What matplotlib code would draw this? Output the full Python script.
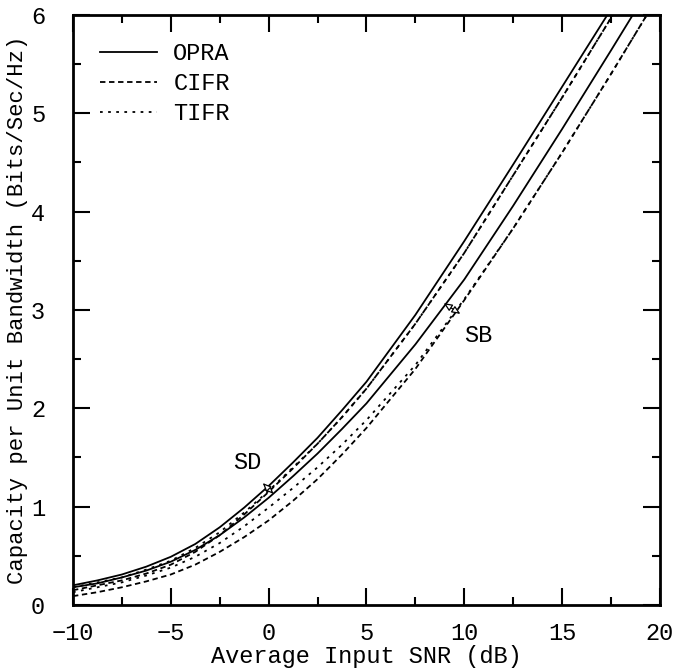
import numpy as np
import matplotlib
matplotlib.use('Agg')
import matplotlib.pyplot as plt
from matplotlib.ticker import MultipleLocator

plt.rcParams['font.family'] = ['Liberation Mono', 'DejaVu Sans Mono']

# values (bits/s/Hz)
snr_db = [-10, -8.75, -7.5, -6.25, -5, -3.75, -2.5, -1.25, 0, 1.25, 2.5, 3.75, 5,
          7.5, 10, 12.5, 15, 17.5, 20]

opra_sd = [0.20, 0.25, 0.31, 0.39, 0.49, 0.62, 0.79, 0.99, 1.21, 1.45, 1.70, 1.98, 2.27,
           2.95, 3.70, 4.48, 5.27, 6.06, 6.88]
opra_sb = [0.18, 0.22, 0.28, 0.35, 0.44, 0.56, 0.71, 0.89, 1.09, 1.31, 1.54, 1.79, 2.05,
           2.65, 3.31, 4.06, 4.84, 5.64, 6.45]
cifr_sd = [0.15, 0.20, 0.25, 0.32, 0.41, 0.54, 0.71, 0.92, 1.15, 1.39, 1.64, 1.91, 2.20,
           2.86, 3.58, 4.37, 5.16, 5.97, 6.80]
cifr_sb = [0.09, 0.13, 0.18, 0.24, 0.31, 0.41, 0.54, 0.69, 0.86, 1.06, 1.28, 1.53, 1.80,
           2.40, 3.10, 3.83, 4.60, 5.40, 6.22]
tifr_sd = [0.18, 0.23, 0.28, 0.36, 0.45, 0.58, 0.74, 0.94, 1.16, 1.40, 1.64, 1.91, 2.20,
           2.86, 3.58, 4.37, 5.16, 5.97, 6.80]
tifr_sb = [0.13, 0.18, 0.23, 0.30, 0.38, 0.49, 0.63, 0.80, 0.99, 1.19, 1.40, 1.63, 1.88,
           2.44, 3.11, 3.83, 4.60, 5.40, 6.22]

fig = plt.figure(figsize=(6.99, 6.69), dpi=100)
ax = fig.add_axes([0.1044, 0.0957, 0.8397, 0.8819])

lw = 1.3
dash = (0, (3, 2))
dot = (0, (1.5, 3))
ax.plot(snr_db, opra_sd, color='black', lw=lw, ls='-', label='OPRA')
ax.plot(snr_db, cifr_sd, color='black', lw=lw, ls=dash, label='CIFR')
ax.plot(snr_db, tifr_sd, color='black', lw=lw, ls=dot, label='TIFR')
ax.plot(snr_db, opra_sb, color='black', lw=lw, ls='-')
ax.plot(snr_db, cifr_sb, color='black', lw=lw, ls=dash)
ax.plot(snr_db, tifr_sb, color='black', lw=lw, ls=dot)

# SD / SB markers
arrow = dict(arrowstyle='<|-|>,head_length=0.5,head_width=0.22',
             fc='white', ec='black', lw=0.9, shrinkA=0, shrinkB=0)
ax.annotate('', xy=(-0.3, 1.24), xytext=(0.25, 1.13), arrowprops=arrow)
ax.text(-1.1, 1.45, 'SD', fontsize=17, ha='center', va='center')
ax.annotate('', xy=(8.95, 3.07), xytext=(9.8, 2.96), arrowprops=arrow)
ax.text(10.7, 2.74, 'SB', fontsize=17, ha='center', va='center')

ax.set_xlim(-10, 20)
ax.set_ylim(0, 6)
ax.xaxis.set_major_locator(MultipleLocator(5))
ax.xaxis.set_minor_locator(MultipleLocator(2.5))
ax.yaxis.set_major_locator(MultipleLocator(1))
ax.yaxis.set_minor_locator(MultipleLocator(0.5))
ax.tick_params(which='both', direction='in', top=True, right=True, width=1.5)
ax.tick_params(which='major', length=12, labelsize=17)
ax.tick_params(axis='x', which='major', pad=12)
ax.tick_params(axis='y', which='major', pad=20)
ax.tick_params(which='minor', length=6)
for s in ax.spines.values():
    s.set_linewidth(2)

ax.set_xlabel('Average Input SNR (dB)', fontsize=17)
ax.xaxis.set_label_coords(0.5, -0.067)
ax.set_ylabel('Capacity per Unit Bandwidth (Bits/Sec/Hz)', fontsize=16, labelpad=2)

leg = ax.legend(loc='upper left', frameon=False, fontsize=17, handlelength=2.4,
                handletextpad=0.7, labelspacing=0.3, borderaxespad=0.85,
                borderpad=0.3)

fig.savefig('out.png', dpi=100)
